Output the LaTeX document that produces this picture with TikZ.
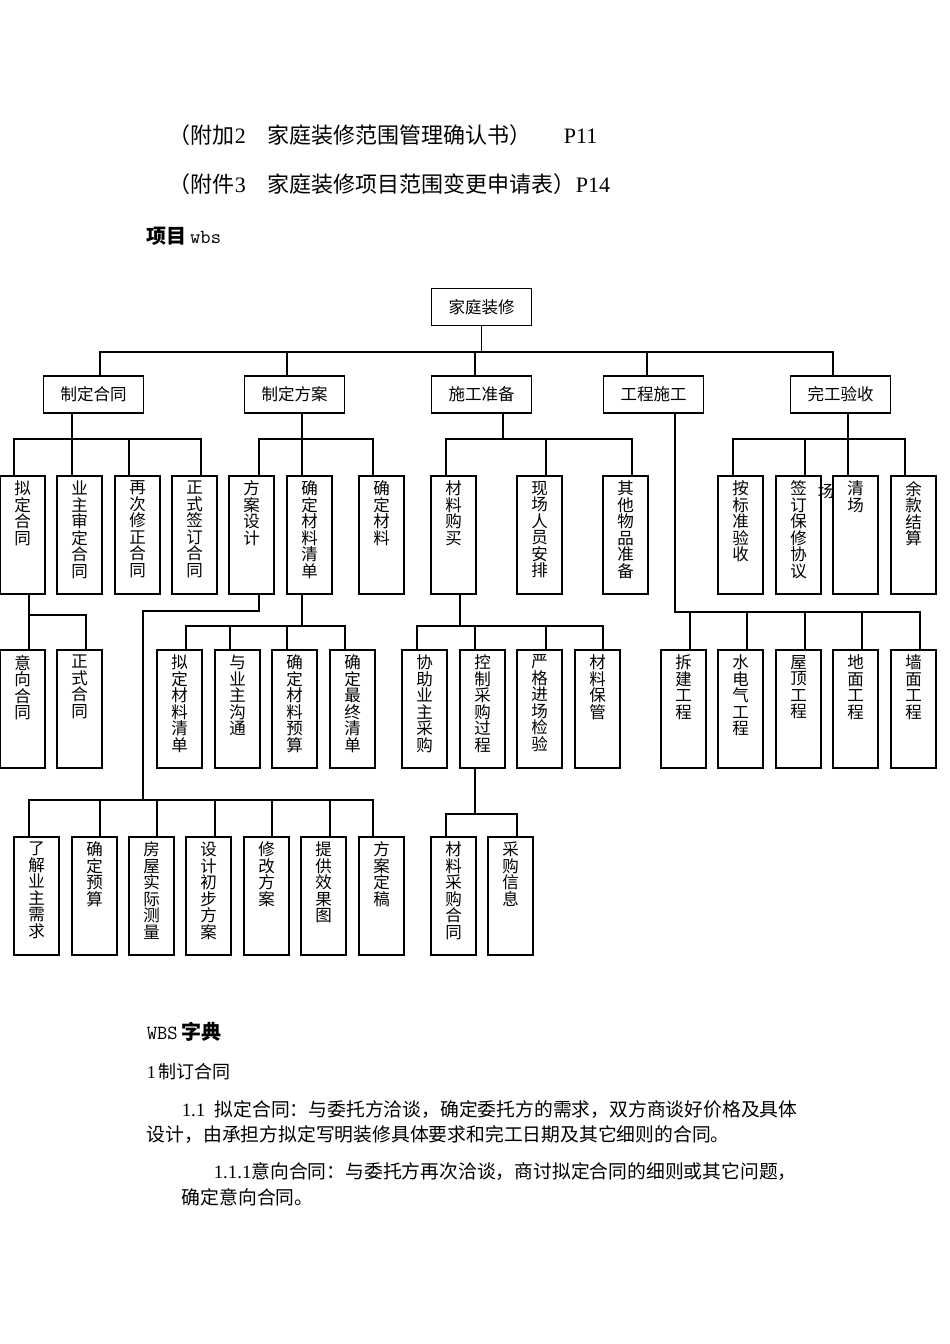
\documentclass[tikz,border=0pt]{standalone}
\usepackage{fontspec}
\setmainfont{Liberation Serif}
\newfontfamily\cjk{Noto Sans CJK SC}
\begin{document}
\begin{tikzpicture}[x=1pt,y=-1pt,line width=1pt,
  hbox/.style={draw,line width=1.3pt,minimum width=100pt,minimum height=37pt,inner sep=0pt,font=\cjk\fontsize{16.5}{17}\selectfont},
  ln/.style={line width=1.1pt}]
\useasboundingbox (0,0) rectangle (950,1344);
\newcommand\wbox[4]{\node[draw,line width=1.3pt,minimum width=45pt,minimum height=118pt,inner sep=0pt] (#1) at (#2+22.5,#3+59) {\parbox[c][108pt][t]{17pt}{\centering\cjk\fontsize{16.5}{16.5}\selectfont #4}};}
% header text
\node[anchor=west,font=\fontsize{22}{24}\selectfont] (h1) at (165,135) {{\cjk （附加}2{\cjk 　家庭装修范围管理确认书）}\hspace{32pt}P11};
\node[anchor=west,font=\fontsize{22}{24}\selectfont] (h2) at (165,184) {{\cjk （附件}3{\cjk 　家庭装修项目范围变更申请表）}P14};
\node[anchor=west,font=\fontsize{20}{22}\selectfont] (h3) at (143,236) {{\cjk\bfseries 项目}\,\texttt{wbs}};
% level 0,1
\node[hbox] (root) at (481.5,307) {家庭装修};
\node[hbox] (a) at (93.5,394.5) {制定合同};
\node[hbox] (b) at (294.5,394.5) {制定方案};
\node[hbox] (c) at (481.5,394.5) {施工准备};
\node[hbox] (d) at (653.5,394.5) {工程施工};
\node[hbox] (e) at (840.5,394.5) {完工验收};
\coordinate (ta) at (100,376); \coordinate (tb) at (287,376); \coordinate (tc) at (475,376);
\coordinate (td) at (647,376); \coordinate (te) at (833,376);
\draw[ln] (root.south) -- (root.south |- 0,352);
\draw[ln] (ta) -- (ta |- 0,352) -- (te |- 0,352) -- (te);
\draw[ln] (tb) -- (tb |- 0,352); \draw[ln] (tc) -- (tc |- 0,352); \draw[ln] (td) -- (td |- 0,352);
% level 2
\wbox{a1}{0}{476}{拟\\定\\合\\同}
\wbox{a2}{57}{476}{业\\主\\审\\定\\合\\同}
\wbox{a3}{115}{476}{再\\次\\修\\正\\合\\同}
\wbox{a4}{172}{476}{正\\式\\签\\订\\合\\同}
\wbox{b1}{229}{476}{方\\案\\设\\计}
\wbox{b2}{287}{476}{确\\定\\材\\料\\清\\单}
\wbox{b3}{359}{476}{确\\定\\材\\料}
\wbox{c1}{431}{476}{材\\料\\购\\买}
\wbox{c2}{517}{476}{现\\场\\人\\员\\安\\排}
\wbox{c3}{603}{476}{其\\他\\物\\品\\准\\备}
\wbox{e1}{718}{476}{按\\标\\准\\验\\收}
\wbox{e2}{776}{476}{签\\订\\保\\修\\协\\议}
\wbox{e3}{833}{476}{清\\场}
\wbox{e4}{891}{476}{余\\款\\结\\算}
\node[font=\cjk\fontsize{16.5}{17}\selectfont] (stray) at (826,491) {场};
% connectors level 2
\draw[ln] (a.south -| 72,0) -- (72,476);
\draw[ln] (14,476) -- (14,439) -- (201,439) -- (201,476);
\draw[ln] (129,439) -- (129,476);
\draw[ln] (b.south -| 302,0) -- (302,476);
\draw[ln] (259,476) -- (259,439) -- (373,439) -- (373,476);
\draw[ln] (c.south -| 503,0) -- (503,439);
\draw[ln] (446,476) -- (446,439) -- (632,439) -- (632,476);
\draw[ln] (546,439) -- (546,476);
\draw[ln] (e.south -| 848,0) -- (848,476);
\draw[ln] (733,476) -- (733,439) -- (905,439) -- (905,476);
\draw[ln] (805,439) -- (805,476);
% 工程施工 children
\wbox{d1}{661}{650}{拆\\建\\工\\程}
\wbox{d2}{718}{650}{水\\电\\气\\工\\程}
\wbox{d3}{776}{650}{屋\\顶\\工\\程}
\wbox{d4}{833}{650}{地\\面\\工\\程}
\wbox{d5}{891}{650}{墙\\面\\工\\程}
\draw[ln] (d.south -| 675,0) -- (675,612) -- (920,612) -- (d5.north -| 920,0);
\foreach \x/\n in {690/d1,747/d2,805/d3,862/d4}{\draw[ln] (\x,612) -- (\n.north -| \x,0);}
% 拟定合同 children
\wbox{f1}{0}{650}{意\\向\\合\\同}
\wbox{f2}{57}{650}{正\\式\\合\\同}
\draw[ln] (a1.south -| 29,0) -- (f1.north -| 29,0);
\draw[ln] (29,615) -- (86,615) -- (f2.north -| 86,0);
% 确定材料清单 children
\wbox{g1}{157}{650}{拟\\定\\材\\料\\清\\单}
\wbox{g2}{215}{650}{与\\业\\主\\沟\\通}
\wbox{g3}{272}{650}{确\\定\\材\\料\\预\\算}
\wbox{g4}{330}{650}{确\\定\\最\\终\\清\\单}
\draw[ln] (b2.south -| 302,0) -- (302,626);
\draw[ln] (g1.north -| 186,0) -- (186,626) -- (345,626) -- (g4.north -| 345,0);
\draw[ln] (230,626) -- (g2.north -| 230,0);
\draw[ln] (287,626) -- (g3.north -| 287,0);
% 材料购买 children
\wbox{k1}{402}{650}{协\\助\\业\\主\\采\\购}
\wbox{k2}{460}{650}{控\\制\\采\\购\\过\\程}
\wbox{k3}{517}{650}{严\\格\\进\\场\\检\\验}
\wbox{k4}{575}{650}{材\\料\\保\\管}
\draw[ln] (c1.south -| 460,0) -- (460,626);
\draw[ln] (k1.north -| 417,0) -- (417,626) -- (603,626) -- (k4.north -| 603,0);
\draw[ln] (475,626) -- (k2.north -| 475,0);
\draw[ln] (546,626) -- (k3.north -| 546,0);
% 方案设计 children
\wbox{m1}{14}{837}{了\\解\\业\\主\\需\\求}
\wbox{m2}{72}{837}{确\\定\\预\\算}
\wbox{m3}{129}{837}{房\\屋\\实\\际\\测\\量}
\wbox{m4}{186}{837}{设\\计\\初\\步\\方\\案}
\wbox{m5}{244}{837}{修\\改\\方\\案}
\wbox{m6}{301}{837}{提\\供\\效\\果\\图}
\wbox{m7}{359}{837}{方\\案\\定\\稿}
\draw[ln] (b1.south -| 259,0) -- (259,611) -- (143,611) -- (143,800);
\draw[ln] (m1.north -| 29,0) -- (29,800) -- (373,800) -- (m7.north -| 373,0);
\foreach \x/\n in {100/m2,157/m3,215/m4,272/m5,330/m6}{\draw[ln] (\x,800) -- (\n.north -| \x,0);}
% 控制采购过程 children
\wbox{n1}{431}{837}{材\\料\\采\\购\\合\\同}
\wbox{n2}{488}{837}{采\\购\\信\\息}
\draw[ln] (k2.south -| 475,0) -- (475,814);
\draw[ln] (n1.north -| 446,0) -- (446,814) -- (517,814) -- (n2.north -| 517,0);
% WBS dictionary
\node[anchor=west,font=\fontsize{20}{22}\selectfont] (w1) at (143,1032) {\texttt{WBS}\,{\cjk\bfseries 字典}};
\node[anchor=west,font=\fontsize{18}{20}\selectfont] (w2) at (143,1072) {1\,{\cjk 制订合同}};
\node[anchor=west,font=\fontsize{18.8}{20}\selectfont] (w3) at (178,1110) {1.1\ \ {\cjk 拟定合同：与委托方洽谈，确定委托方的需求，双方商谈好价格及具体}};
\node[anchor=west,font=\fontsize{18.8}{20}\selectfont] (w4) at (143,1135) {\cjk 设计，由承担方拟定写明装修具体要求和完工日期及其它细则的合同。};
\node[anchor=west,font=\fontsize{18.8}{20}\selectfont] (w5) at (210,1172) {1.1.1{\cjk 意向合同：与委托方再次洽谈，商讨拟定合同的细则或其它问题，}};
\node[anchor=west,font=\fontsize{18.8}{20}\selectfont] (w6) at (178,1197) {\cjk 确定意向合同。};
\end{tikzpicture}
\end{document}
